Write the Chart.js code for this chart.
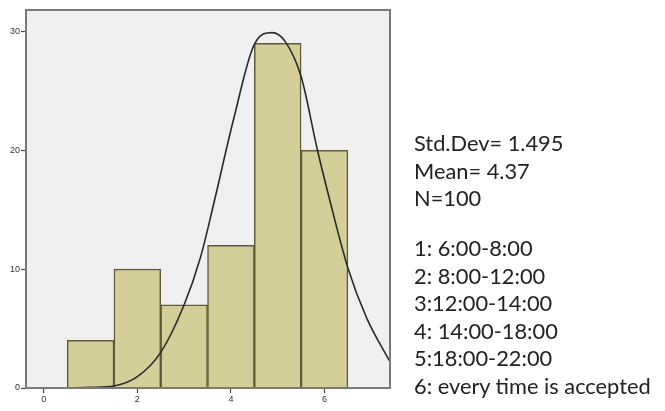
<!DOCTYPE html>
<html>
<head>
<meta charset="utf-8">
<script src="https://cdn.jsdelivr.net/npm/chart.js@4/dist/chart.umd.min.js"></script>
<style>
  html, body { margin: 0; padding: 0; background: #fff; }
  #wrap { position: relative; width: 665px; height: 411px; }
  canvas { position: absolute; left: 0; top: 0; }
  .txt { position: absolute; left: 414px; font-family: Lato, "Liberation Sans", sans-serif; font-size: 21.8px; color: #222; line-height: 27.6px; white-space: nowrap; }
</style>
</head>
<body>
<div id="wrap">
  <canvas id="c" width="665" height="411"></canvas>
  <div class="txt" id="stats" style="top:129px"></div>
  <div class="txt" id="legend" style="top:234px"></div>
</div>
<script>
// ---- data ----
const categories = [1, 2, 3, 4, 5, 6];
const counts = [4, 10, 7, 12, 29, 20];
const curveX = [0.5, 1.0, 1.5, 2.0, 2.5, 3.0, 3.35, 3.65, 4.05, 4.5, 4.88, 5.15, 5.5, 5.85, 6.1, 6.5, 6.9, 7.4];
const curveY = [0.0, 0.05, 0.17, 0.95, 3.0, 7.0, 11.0, 15.8, 22.5, 28.9, 29.9, 29.2, 26.2, 20.0, 16.0, 10.1, 5.9, 2.2];
const xTicks = [0, 2, 4, 6];
const yTicks = [0, 10, 20, 30];
const statsLines = ["Std.Dev= 1.495", "Mean= 4.37", "N=100"];
const legendLines = ["1: 6:00-8:00", "2: 8:00-12:00", "3:12:00-14:00", "4: 14:00-18:00", "5:18:00-22:00", "6: every time is accepted"];

document.getElementById('stats').innerHTML = statsLines.join('<br>');
document.getElementById('legend').innerHTML = legendLines.join('<br>');

const framePlugin = {
  id: 'frame',
  beforeDatasetsDraw(chart) {
    const a = chart.chartArea, ctx = chart.ctx;
    ctx.save();
    ctx.fillStyle = '#f0f0f0';
    ctx.fillRect(a.left, a.top, a.right - a.left, a.bottom - a.top);
    ctx.restore();
  },
  afterDraw(chart) {
    const a = chart.chartArea, ctx = chart.ctx;
    ctx.save();
    ctx.strokeStyle = '#7a7a7a';
    ctx.lineWidth = 2;
    ctx.strokeRect(a.left, a.top, a.right - a.left, a.bottom - a.top);
    ctx.restore();
  }
};

new Chart(document.getElementById('c'), {
  type: 'bar',
  data: {
    datasets: [
      {
        type: 'line',
        data: curveX.map((x, i) => ({ x: x, y: curveY[i] })),
        borderColor: '#2a2a2a',
        borderWidth: 1.6,
        pointRadius: 0,
        cubicInterpolationMode: 'monotone',
        fill: false,
        order: 0
      },
      {
        type: 'bar',
        data: categories.map((c, i) => ({ x: c, y: counts[i] })),
        backgroundColor: '#d4cf98',
        borderColor: '#5f5a3a',
        borderWidth: 1.5,
        barPercentage: 1,
        categoryPercentage: 1,
        order: 1
      }
    ]
  },
  options: {
    responsive: false,
    animation: false,
    layout: { padding: { top: 10, right: 275, left: 0, bottom: 0 } },
    plugins: { legend: { display: false }, tooltip: { enabled: false } },
    scales: {
      x: {
        type: 'linear',
        offset: false,
        min: -0.38,
        max: 7.4,
        afterBuildTicks(s) { s.ticks = xTicks.map(v => ({ value: v })); },
        afterFit(s) { s.height = 23; },
        grid: { offset: false, drawOnChartArea: false, tickLength: 5, color: '#444', tickWidth: 1.2 },
        border: { display: false },
        ticks: { color: '#333', font: { size: 9, family: 'Liberation Sans' }, padding: 1, maxRotation: 0 }
      },
      y: {
        type: 'linear',
        min: 0,
        max: 31.8,
        afterBuildTicks(s) { s.ticks = yTicks.map(v => ({ value: v })); },
        afterFit(s) { s.width = 26; },
        grid: { drawOnChartArea: false, tickLength: 5, color: '#444', tickWidth: 1.2 },
        border: { display: false },
        ticks: { color: '#333', font: { size: 9, family: 'Liberation Sans' }, padding: 1 }
      }
    }
  },
  plugins: [framePlugin]
});
</script>
</body>
</html>
